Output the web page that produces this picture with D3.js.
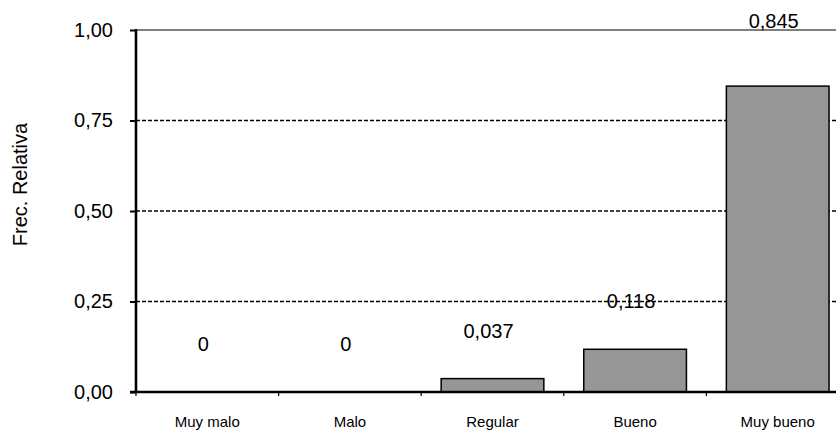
<!DOCTYPE html>
<html>
<head>
<meta charset="utf-8">
<script src="https://cdn.jsdelivr.net/npm/d3@7/dist/d3.min.js"></script>
<style>
  html, body { margin: 0; padding: 0; background: #ffffff; }
  svg { display: block; font-family: "Liberation Sans", Arial, sans-serif; }
</style>
</head>
<body>
<svg id="chart" width="836" height="430"></svg>
<script>
const categories = ["Muy malo", "Malo", "Regular", "Bueno", "Muy bueno"];
const values = [0, 0, 0.037, 0.118, 0.845];
const valueLabels = ["0", "0", "0,037", "0,118", "0,845"];
const yTicks = [0, 0.25, 0.5, 0.75, 1];
const yTickLabels = ["0,00", "0,25", "0,50", "0,75", "1,00"];
const yTitle = "Frec. Relativa";

const W = 836, H = 430;
const plot = { left: 136, right: 849, top: 30, bottom: 392 };

const svg = d3.select("#chart");

const x = d3.scaleBand()
  .domain(categories)
  .range([plot.left, plot.right])
  .paddingInner(0.28)
  .paddingOuter(0.14);
const step = x.step();

const y = d3.scaleLinear().domain([0, 1]).range([plot.bottom, plot.top]);

// plot area border (gray)
svg.append("rect")
  .attr("x", plot.left).attr("y", plot.top)
  .attr("width", plot.right - plot.left).attr("height", plot.bottom - plot.top)
  .attr("fill", "none").attr("stroke", "#808080").attr("stroke-width", 2);

// dashed gridlines
svg.append("g").selectAll("line")
  .data(yTicks.filter(t => t > 0 && t < 1))
  .join("line")
  .attr("x1", plot.left).attr("x2", plot.right)
  .attr("y1", d => y(d)).attr("y2", d => y(d))
  .attr("stroke", "#000").attr("stroke-width", 1.3)
  .attr("stroke-dasharray", "4,2");

// bars
svg.append("g").selectAll("rect")
  .data(values.map((v, i) => ({ c: categories[i], v })).filter(d => d.v > 0))
  .join("rect")
  .attr("x", d => x(d.c))
  .attr("width", x.bandwidth())
  .attr("y", d => y(d.v))
  .attr("height", d => y(0) - y(d.v))
  .attr("fill", "#969696")
  .attr("stroke", "#000")
  .attr("stroke-width", 1.5);

// y axis
const yAxis = d3.axisLeft(y)
  .tickValues(yTicks)
  .tickFormat((d, i) => yTickLabels[i])
  .tickSize(6)
  .tickPadding(17);
const gy = svg.append("g").attr("transform", `translate(${plot.left},0)`).call(yAxis);
gy.select(".domain").remove();
gy.selectAll(".tick line").attr("stroke", "#000").attr("stroke-width", 2);
gy.selectAll(".tick text")
  .attr("font-size", 20).attr("fill", "#000")
  .attr("font-family", "Liberation Sans, Arial, sans-serif");
svg.append("line")
  .attr("x1", plot.left).attr("x2", plot.left)
  .attr("y1", plot.top - 1).attr("y2", plot.bottom + 1)
  .attr("stroke", "#000").attr("stroke-width", 2.6);

// x axis
const xBoundary = d3.scaleLinear().domain([0, categories.length]).range([plot.left, plot.right]);
svg.append("g").selectAll("line")
  .data(d3.range(categories.length + 1))
  .join("line")
  .attr("x1", d => xBoundary(d)).attr("x2", d => xBoundary(d))
  .attr("y1", plot.bottom).attr("y2", plot.bottom + 4)
  .attr("stroke", "#000").attr("stroke-width", 1.2);
svg.append("line")
  .attr("x1", plot.left - 6).attr("x2", plot.right)
  .attr("y1", plot.bottom).attr("y2", plot.bottom)
  .attr("stroke", "#000").attr("stroke-width", 2.6);

svg.append("g").selectAll("text")
  .data(categories)
  .join("text")
  .attr("x", d => x(d) + x.bandwidth() / 2)
  .attr("y", 427)
  .attr("text-anchor", "middle")
  .attr("font-size", 15)
  .attr("fill", "#000")
  .text(d => d);

// value labels
const maxV = d3.max(values);
svg.append("g").selectAll("text")
  .data(values.map((v, i) => ({ c: categories[i], v, t: valueLabels[i] })))
  .join("text")
  .attr("x", d => x(d.c) + x.bandwidth() / 2 - 4)
  .attr("y", d => d.v === maxV ? plot.top - 2 : y(d.v) - 41)
  .attr("text-anchor", "middle")
  .attr("font-size", 20)
  .attr("fill", "#000")
  .text(d => d.t);

// y title
svg.append("text")
  .attr("transform", `translate(27,${184.5}) rotate(-90)`)
  .attr("text-anchor", "middle")
  .attr("font-size", 20)
  .attr("fill", "#000")
  .text(yTitle);
</script>
</body>
</html>
